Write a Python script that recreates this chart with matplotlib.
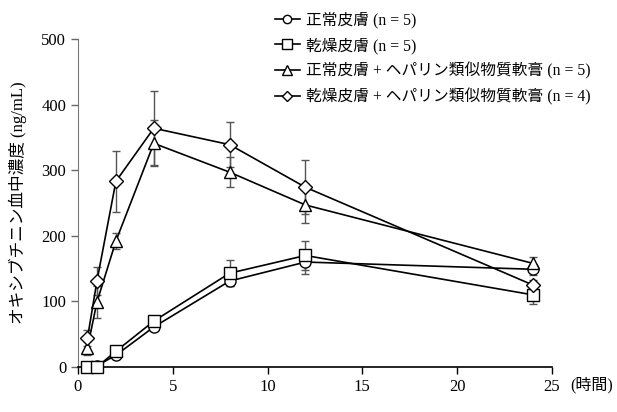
import matplotlib
matplotlib.use("Agg")
import matplotlib.pyplot as plt

plt.rcParams['font.family'] = ['Liberation Serif', 'Noto Sans CJK JP']

t = [0.5, 1, 2, 4, 8, 12, 24]
normal = [0, 2, 18, 61, 131, 160, 149]
normal_sd = [3, 3, 4, 5, 8, 18, 8]
dry = [0, 0, 24, 70, 143, 170, 110]
dry_sd = [3, 3, 4, 5, 20, 22, 14]
normal_hep = [29, 99, 192, 341, 297, 247, 158]
normal_hep_sd = [11, 24, 12, 35, 23, 28, 10]
dry_hep = [44, 131, 283, 364, 339, 274, 125]
dry_hep_sd = [12, 21, 46, 56, 34, 41, 8]

labels = ['正常皮膚 (n = 5)', '乾燥皮膚 (n = 5)',
          '正常皮膚 + ヘパリン類似物質軟膏 (n = 5)',
          '乾燥皮膚 + ヘパリン類似物質軟膏 (n = 4)']
markers = ['o', 's', '^', 'D']
sizes = [8, 9, 9, 7]

fig = plt.figure(figsize=(6.17, 4.12), dpi=100)
ax = fig.add_axes([0.1264, 0.1092, 0.768, 0.7961])

series = [(normal, normal_sd), (dry, dry_sd), (normal_hep, normal_hep_sd), (dry_hep, dry_hep_sd)]
handles = []
for (y, sd), m, ms, lab in zip(series, markers, sizes, labels):
    ax.errorbar(t, y, yerr=sd, fmt='none', ecolor='#555555', elinewidth=1, capsize=3, capthick=1, zorder=2)
    h, = ax.plot(t, y, color='black', lw=1.2, marker=m, ms=ms, mfc='white', mec='black', mew=1.0, label=lab, zorder=3, clip_on=False)
    handles.append(h)

ax.set_xlim(0, 25)
ax.set_ylim(0, 500)
ax.set_xticks([0, 5, 10, 15, 20, 25])
ax.set_yticks([0, 100, 200, 300, 400, 500])
ax.tick_params(labelsize=12, direction='out', length=5, width=1)
ax.tick_params(axis='y', color='#666666')
ax.spines['top'].set_visible(False)
ax.spines['right'].set_visible(False)
ax.spines['left'].set_color('#777777')
ax.spines['bottom'].set_color('black')
ax.spines['bottom'].set_linewidth(1.2)
ax.set_ylabel('オキシブチニン血中濃度 (ng/mL)', fontsize=12, labelpad=10)
ax.text(1.038, -0.03, '(時間)', transform=ax.transAxes, fontsize=11.5, ha='left', va='top')

leg = ax.legend(handles=handles, loc='upper left', bbox_to_anchor=(0.385, 1.125), frameon=False,
                fontsize=11.3, handlelength=1.6, handletextpad=0.4, labelspacing=0.55, markerscale=0.75)

fig.savefig('out.png', dpi=100)
